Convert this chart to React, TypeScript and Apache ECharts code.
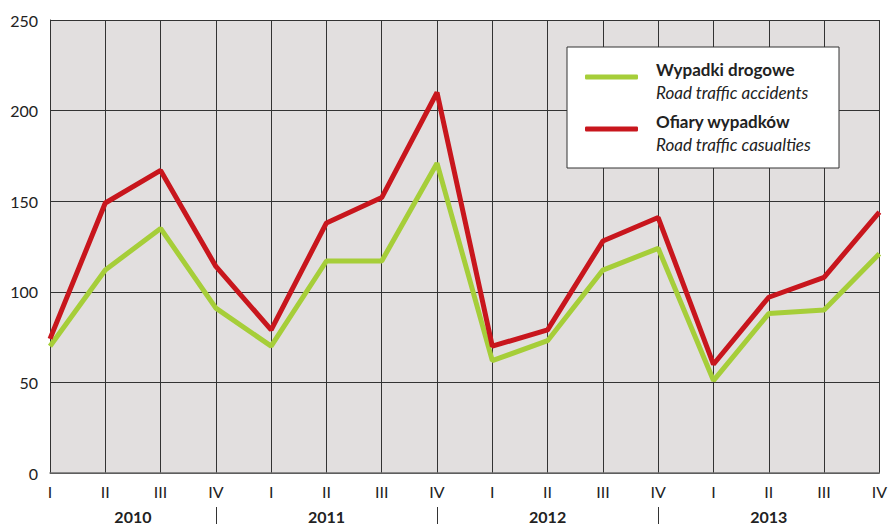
import React, { useEffect, useRef } from "react";
import * as echarts from "echarts";

const quarters = ["I", "II", "III", "IV", "I", "II", "III", "IV", "I", "II", "III", "IV", "I", "II", "III", "IV"];
const years = ["2010", "2011", "2012", "2013"];
// quarter index where each year label is centred / separators are drawn
const yearCentres = [1.5, 5, 9, 13];
const separators = [3, 7, 11];

const accidents = [70, 112, 135, 91, 70, 117, 117, 171, 62, 73, 112, 124, 51, 88, 90, 121];
const casualties = [74, 149, 167, 114, 79, 138, 152, 210, 70, 79, 128, 141, 60, 97, 108, 144];

const seriesNames = ["Wypadki drogowe", "Ofiary wypadków"];
const seriesNamesEn = ["Road traffic accidents", "Road traffic casualties"];
const seriesColors = ["#a6ce39", "#c8161d"];

const FONT = "Lato";

export default function App() {
  const ref = useRef<HTMLDivElement>(null);
  useEffect(() => {
    if (!ref.current) return;
    const chart = echarts.init(ref.current, undefined, { renderer: "svg" });
    const halfSteps = Array.from({ length: quarters.length * 2 - 1 }, (_, i) => "h" + i);
    const halfLabel: Record<number, string> = {};
    yearCentres.forEach((c, k) => (halfLabel[Math.round(c * 2)] = years[k]));
    const sepHalf = separators.map((s) => s * 2);

    chart.setOption({
      animation: false,
      textStyle: { fontFamily: FONT },
      grid: {
        left: 50,
        right: 9,
        top: 20,
        bottom: 51,
        show: true,
        backgroundColor: "#e2dfdf",
        borderWidth: 0,
      },
      xAxis: [
        {
          type: "category",
          data: quarters,
          boundaryGap: false,
          axisLine: { show: true, lineStyle: { color: "#6e6e6e", width: 1.5 } },
          axisTick: { show: false },
          axisLabel: { interval: 0, margin: 10, fontSize: 16, color: "#222", fontFamily: FONT },
          splitLine: { show: true, interval: 0, lineStyle: { color: "#333", width: 1 } },
          z: 1,
        },
        {
          type: "category",
          data: halfSteps,
          position: "bottom",
          offset: 34,
          boundaryGap: false,
          axisLine: { show: false },
          axisTick: {
            show: true,
            length: 18,
            interval: (i: number) => sepHalf.includes(i),
            lineStyle: { color: "#333", width: 1 },
          },
          axisLabel: {
            interval: 0,
            margin: 1,
            fontSize: 16,
            fontWeight: "bold",
            color: "#222",
            fontFamily: FONT,
            formatter: (_v: string, i: number) => halfLabel[i] || "",
          },
          splitLine: { show: false },
        },
      ],
      yAxis: {
        type: "value",
        min: 0,
        max: 250,
        interval: 50,
        axisLine: { show: true, lineStyle: { color: "#333", width: 1 } },
        axisTick: { show: false },
        axisLabel: { margin: 12, fontSize: 16, color: "#222", fontFamily: FONT },
        splitLine: { show: true, lineStyle: { color: "#333", width: 1 } },
      },
      legend: {
        orient: "vertical",
        left: 585,
        top: 50,
        padding: 0,
        itemWidth: 53,
        itemHeight: 5,
        itemGap: -2,
        icon: "roundRect",
        z: 10,
        data: seriesNames,
        formatter: (name: string) => {
          const i = seriesNames.indexOf(name);
          return `{b|${name}}\n{i|${seriesNamesEn[i]}}`;
        },
        textStyle: {
          fontSize: 17,
          lineHeight: 23,
          padding: [8, 0, 0, 13],
          rich: {
            b: { fontWeight: "bold", fontSize: 17, lineHeight: 23, color: "#222", fontFamily: FONT },
            i: { fontStyle: "italic", fontSize: 17, lineHeight: 23, color: "#222", fontFamily: FONT },
          },
        },
      },
      graphic: [
        {
          type: "rect",
          z: 5,
          shape: { x: 567, y: 47, width: 272, height: 121 },
          style: { fill: "#ffffff", stroke: "#333", lineWidth: 1 },
        },
      ],
      series: [
        {
          name: seriesNames[0],
          type: "line",
          data: accidents,
          symbol: "none",
          lineStyle: { width: 5, color: seriesColors[0] },
          itemStyle: { color: seriesColors[0] },
          z: 2,
        },
        {
          name: seriesNames[1],
          type: "line",
          data: casualties,
          symbol: "none",
          lineStyle: { width: 5, color: seriesColors[1] },
          itemStyle: { color: seriesColors[1] },
          z: 3,
        },
      ],
    });
    return () => chart.dispose();
  }, []);
  return <div ref={ref} style={{ width: 890, height: 524, position: "absolute", left: 0, top: 0 }} />;
}
